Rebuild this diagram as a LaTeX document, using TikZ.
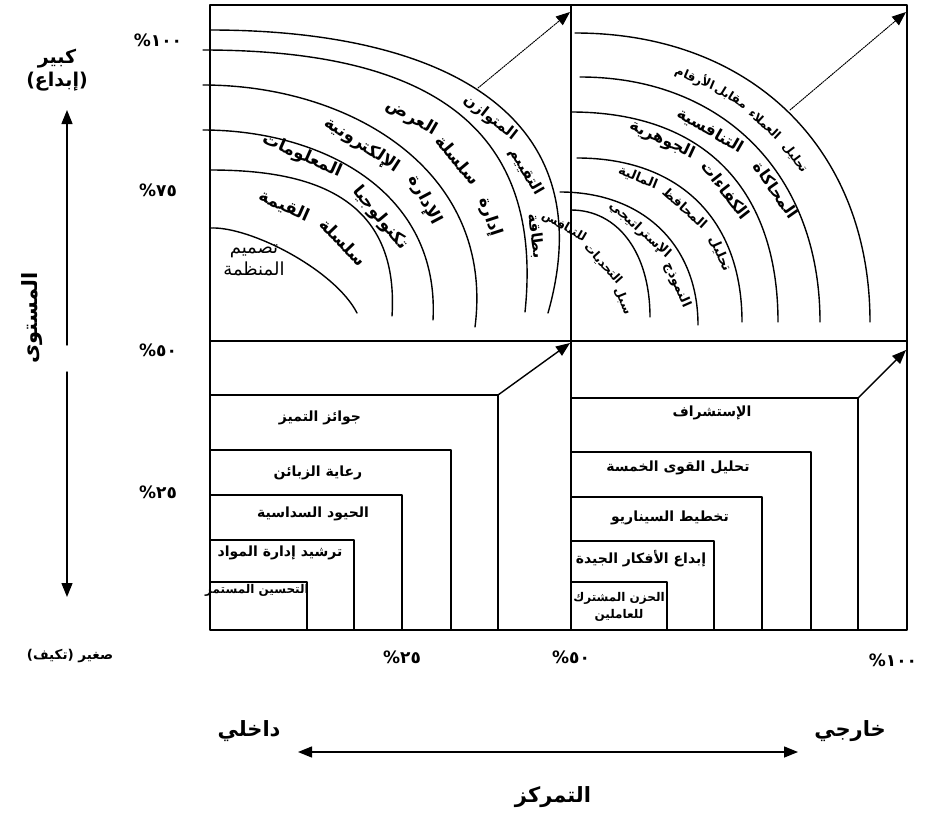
\documentclass[tikz,border=0pt]{standalone}
\usepackage{fontspec}
\usetikzlibrary{arrows.meta,positioning}
\TeXXeTstate=1
\newfontfamily\arabicfont[Script=Arabic]{DejaVu Sans}
\newcommand{\artxt}[1]{\beginR#1\endR}
\newcommand{\pcnt}[1]{\hbox{\%}\hbox{#1}}

\begin{document}
\begin{tikzpicture}[x=1pt,y=-1pt,>={Triangle[length=14pt,width=11pt]},line cap=round,line join=round]
\useasboundingbox (0,0) rectangle (925,816);
\fill[white] (0,0) rectangle (925,816);
\tikzset{frame/.style={draw=black,line width=1.8pt},ring/.style={draw=black,line width=1.4pt},axis/.style={draw=black,line width=1.4pt},
  arcword/.style={font=\arabicfont\bfseries\fontsize{17}{17}\selectfont,inner sep=0pt},
  midword/.style={font=\arabicfont\bfseries\fontsize{15}{15}\selectfont,inner sep=0pt},
  rightword/.style={font=\arabicfont\bfseries\fontsize{16}{16}\selectfont,inner sep=0pt},
  smallword/.style={font=\arabicfont\bfseries\fontsize{13}{13}\selectfont,inner sep=0pt},
  tinyword/.style={font=\arabicfont\bfseries\fontsize{12}{12}\selectfont,inner sep=0pt},
  boxlab/.style={font=\arabicfont\bfseries\fontsize{14}{17}\selectfont,inner sep=1pt,align=center},
  axlab/.style={font=\arabicfont\bfseries\fontsize{19}{23}\selectfont,inner sep=1pt,align=center},
  pct/.style={font=\arabicfont\bfseries\fontsize{17}{17}\selectfont,inner sep=1pt},
  bigword/.style={font=\arabicfont\bfseries\fontsize{21}{23}\selectfont,inner sep=1pt}}
% quadrants
\draw[frame] (210,5) rectangle (907,630);
\draw[frame] (571,5) -- (571,630);
\draw[frame] (210,341) -- (907,341);
% arcs, upper left
\draw[ring] (210,228) .. controls (250,226) and (335,270) .. (357,313);
\draw[ring] (210,170) .. controls (300,170) and (400,190) .. (392,316);
\draw[ring] (203,130) .. controls (320,130) and (440,190) .. (433,320);
\draw[ring] (203,85) .. controls (350,85) and (495,170) .. (475,327);
\draw[ring] (203,50) .. controls (420,50) and (545,120) .. (525,312);
\draw[ring] (210,30) .. controls (440,30) and (605,112) .. (548,313);
% arcs, upper right
\draw[ring] (575,33) .. controls (752,33) and (870,149) .. (870,322);
\draw[ring] (580,77) .. controls (724,77) and (820,175) .. (820,322);
\draw[ring] (571,112) .. controls (705,112) and (778,190) .. (778,322);
\draw[ring] (577,158) .. controls (680,158) and (742,220) .. (742,322);
\draw[ring] (560,192) .. controls (643,192) and (698,245) .. (698,325);
\draw[ring] (571,210) .. controls (618,210) and (650,253) .. (650,317);
% dotted arrows
\coordinate (dotA) at (478,88); \coordinate (dotATip) at (570,12);
\coordinate (dotB) at (790,110); \coordinate (dotBTip) at (906,12);
\draw[axis,densely dotted,line width=1pt,->] (dotA) -- (dotATip);
\draw[axis,densely dotted,line width=1pt,->] (dotB) -- (dotBTip);
% words on the arcs, left
\node[arcword,rotate=-24] (wQimah) at (284,206) {القيمة};
\node[arcword,rotate=-46] (wSilsila) at (343,242) {سلسلة};
\node[arcword,rotate=-24] (wMaalumat) at (302,156) {المعلومات};
\node[arcword,rotate=-50] (wTech) at (380,218) {تكنولوجيا};
\node[arcword,rotate=-33] (wElec) at (362,145) {الإلكترونية};
\node[arcword,rotate=-62] (wIdara) at (425,200) {الإدارة};
\node[arcword,rotate=-30] (wArd) at (412,118) {العرض};
\node[arcword,rotate=-50] (wSilsilaB) at (458,160) {سلسلة};
\node[arcword,rotate=-72] (wIdaraB) at (490,217) {إدارة};
\node[midword,rotate=-38] (wMutawazin) at (490,118) {المتوازن};
\node[midword,rotate=-60] (wTaqyeem) at (526,172) {التقييم};
\node[midword,rotate=-82] (wBitaqa) at (536,236) {بطاقة};
\node[font=\arabicfont\fontsize{18}{22}\selectfont,align=center,inner sep=0pt] (orgDesign) at (254,260) {تصميم\\المنظمة};
% words on the arcs, right
\node[tinyword,rotate=-23] (wArqam) at (695,78) {الأرقام};
\node[tinyword,rotate=-32] (wMuqabil) at (731,97) {مقابل};
\node[tinyword,rotate=-43] (wUmala) at (765,124) {العملاء};
\node[tinyword,rotate=-53] (wTahlil) at (795,158) {تحليل};
\node[rightword,rotate=-30] (wTanafusiya) at (710,131) {التنافسية};
\node[rightword,rotate=-55] (wMuhakat) at (776,190) {المحاكاة};
\node[rightword,rotate=-25] (wJawhariya) at (662,140) {الجوهرية};
\node[rightword,rotate=-52] (wKafaat) at (726,190) {الكفاءات};
\node[smallword,rotate=-22] (wMaliya) at (638,178) {المالية};
\node[smallword,rotate=-42] (wMahafiz) at (685,208) {المحافظ};
\node[smallword,rotate=-66] (wTahlilB) at (720,254) {تحليل};
\node[smallword,rotate=-42] (wIstrat) at (640,230) {الإستراتيجي};
\node[smallword,rotate=-66] (wNamuthaj) at (677,285) {النموذج};
\node[tinyword,rotate=-30] (wTanafus) at (564,227) {للتنافس};
\node[tinyword,rotate=-48] (wTahadiyat) at (603,264) {التحديات};
\node[tinyword,rotate=-68] (wSubul) at (623,301) {سبل};
% nested boxes, lower left
\draw[frame] (210,395) -| (498,630);
\draw[frame] (210,450) -| (451,630);
\draw[frame] (210,495) -| (402,630);
\draw[frame] (210,540) -| (354,630);
\draw[frame] (210,582) -| (307,630);
\coordinate (boxA) at (498,395); \coordinate (boxATip) at (570,343);
\draw[axis,->] (boxA) -- (boxATip);
\node[boxlab] (bExcel) at (320,418) {\artxt{جوائز التميز}};
\node[boxlab] (bCust) at (318,473) {\artxt{رعاية الزبائن}};
\node[boxlab] (bSix) at (313,514) {\artxt{الحيود السداسية}};
\node[boxlab] (bMat) at (280,553) {\artxt{ترشيد إدارة المواد}};
\node[boxlab,font=\arabicfont\bfseries\fontsize{12}{14}\selectfont] (bImp) at (257,590) {\artxt{التحسين المستمر}};
% nested boxes, lower right
\draw[frame] (571,398) -| (858,630);
\draw[frame] (571,452) -| (811,630);
\draw[frame] (571,497) -| (762,630);
\draw[frame] (571,541) -| (714,630);
\draw[frame] (571,582) -| (667,630);
\coordinate (boxB) at (858,398); \coordinate (boxBTip) at (906,350);
\draw[axis,->] (boxB) -- (boxBTip);
\node[boxlab] (bFore) at (712,413) {الإستشراف};
\node[boxlab] (bFive) at (678,468) {\artxt{تحليل القوى الخمسة}};
\node[boxlab] (bScen) at (670,518) {\artxt{تخطيط السيناريو}};
\node[boxlab] (bIdeas) at (641,559) {\artxt{إبداع الأفكار الجيدة}};
\node[boxlab,font=\arabicfont\bfseries\fontsize{12}{17}\selectfont] (bShare) at (619,607) {\artxt{الحزن المشترك}\\للعاملين};
% level axis
\node[axlab] (yBig) at (57,70) {كبير\\\artxt{(إبداع)}};
\node[axlab,font=\arabicfont\bfseries\fontsize{21}{23}\selectfont,rotate=90] (yLevel) at (32,318) {المستوى};
\node[font=\arabicfont\bfseries\fontsize{13.5}{15}\selectfont] (ySmall) at (70,656) {\artxt{صغير (تكيف)}};
\coordinate (lvTop) at (67,110); \coordinate (lvGapA) at (67,345);
\coordinate (lvGapB) at (67,372); \coordinate (lvBot) at (67,597);
\draw[axis,->] (lvGapA) -- (lvTop);
\draw[axis,->] (lvGapB) -- (lvBot);
\node[pct] (pY100) at (158,40) {\pcnt{١٠٠}};
\node[pct] (pY75) at (158,190) {\pcnt{٧٥}};
\node[pct] (pY50) at (158,350) {\pcnt{٥٠}};
\node[pct] (pY25) at (158,492) {\pcnt{٢٥}};
% focus axis
\node[pct] (pX25) at (402,657) {\pcnt{٢٥}};
\node[pct] (pX50) at (571,657) {\pcnt{٥٠}};
\node[pct] (pX100) at (893,660) {\pcnt{١٠٠}};
\node[bigword] (xIn) at (249,731) {داخلي};
\node[bigword] (xOut) at (850,731) {خارجي};
\node[bigword] (xFocus) at (553,797) {التمركز};
\coordinate (hzL) at (298,752); \coordinate (hzR) at (798,752);
\draw[axis,<->] (hzL) -- (hzR);
\end{tikzpicture}
\end{document}
